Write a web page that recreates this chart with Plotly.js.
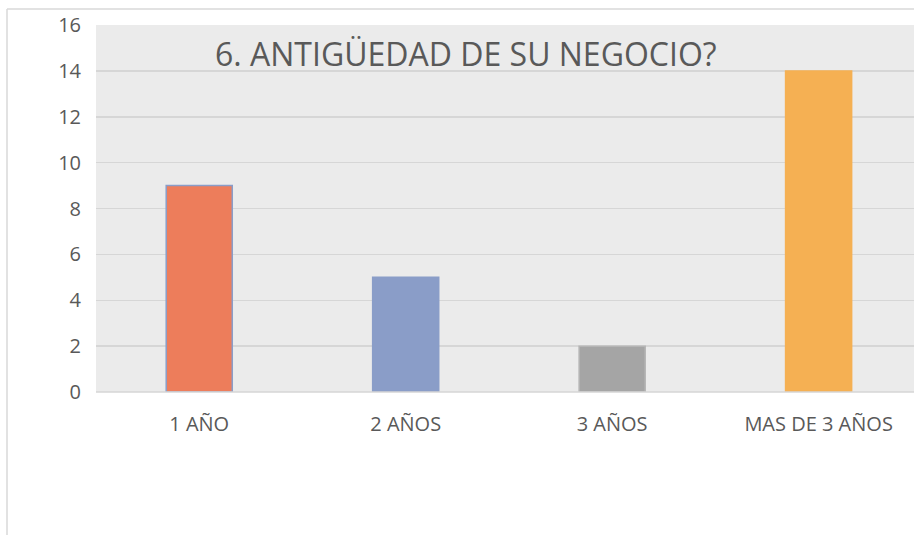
<!DOCTYPE html>
<html>
<head>
<meta charset="utf-8">
<script src="https://cdn.plot.ly/plotly-3.0.1.min.js"></script>
<style>html,body{margin:0;padding:0;background:#fff;}#chart{width:914px;height:535px;}</style>
</head>
<body>
<div id="chart"></div>
<script>
const categories = ["1 AÑO", "2 AÑOS", "3 AÑOS", "MAS DE 3 AÑOS"];
const values = [9, 5, 2, 14];
const barColors = ["#ED7D5B", "#8A9DC8", "#A5A5A5", "#F5B053"];
const lineColors = ["#8A9DC8", "#8A9DC8", "#B5B5B5", "#F5B053"];
const yTicks = [0, 2, 4, 6, 8, 10, 12, 14, 16];
const titleText = "6. ANTIGÜEDAD DE SU NEGOCIO?";

const L = 96, R = 914, T = 25, B = 392;
const px = x => (x - L) / (R - L);
const py = y => (B - y) / (B - T);

const trace = {
  type: "bar",
  x: categories,
  y: values,
  width: 0.32,
  marker: {color: barColors, line: {color: lineColors, width: 1.5}},
  hoverinfo: "skip"
};

const layout = {
  width: 914, height: 535,
  margin: {l: L, r: 914 - R, t: T, b: 535 - B, pad: 0},
  paper_bgcolor: "#ffffff",
  plot_bgcolor: "#EBEBEB",
  showlegend: false,
  font: {family: "Open Sans, sans-serif", color: "#595959"},
  xaxis: {
    type: "category",
    range: [-0.5, 3.462],
    showgrid: false, zeroline: false, showline: false,
    ticks: "", tickfont: {size: 20, color: "#595959"},
    ticklabelstandoff: 18,
    fixedrange: true
  },
  yaxis: {
    range: [0, 16],
    tickvals: yTicks,
    ticktext: yTicks.map(String),
    showgrid: true, gridcolor: "#D6D6D6", gridwidth: 1.5,
    zeroline: false, showline: false,
    ticks: "", ticklen: 0,
    tickfont: {size: 20, color: "#595959"},
    ticklabelstandoff: 14,
    automargin: false,
    fixedrange: true
  },
  shapes: [
    {type: "line", xref: "paper", yref: "paper", x0: px(7), x1: px(914), y0: py(9), y1: py(9), line: {color: "#D9D9D9", width: 1.5}},
    {type: "line", xref: "paper", yref: "paper", x0: px(7), x1: px(7), y0: py(9), y1: py(535), line: {color: "#D9D9D9", width: 1.5}},
    {type: "line", xref: "paper", yref: "paper", x0: 0, x1: 1, y0: 0, y1: 0, line: {color: "#D6D6D6", width: 1.5}}
  ],
  annotations: [
    {text: titleText, xref: "paper", yref: "paper", x: px(466), y: py(54), xanchor: "center", yanchor: "middle", showarrow: false, font: {size: 32, color: "#595959", family: "Open Sans, sans-serif"}}
  ]
};

Plotly.newPlot("chart", [trace], layout, {displayModeBar: false, staticPlot: true});
</script>
</body>
</html>
